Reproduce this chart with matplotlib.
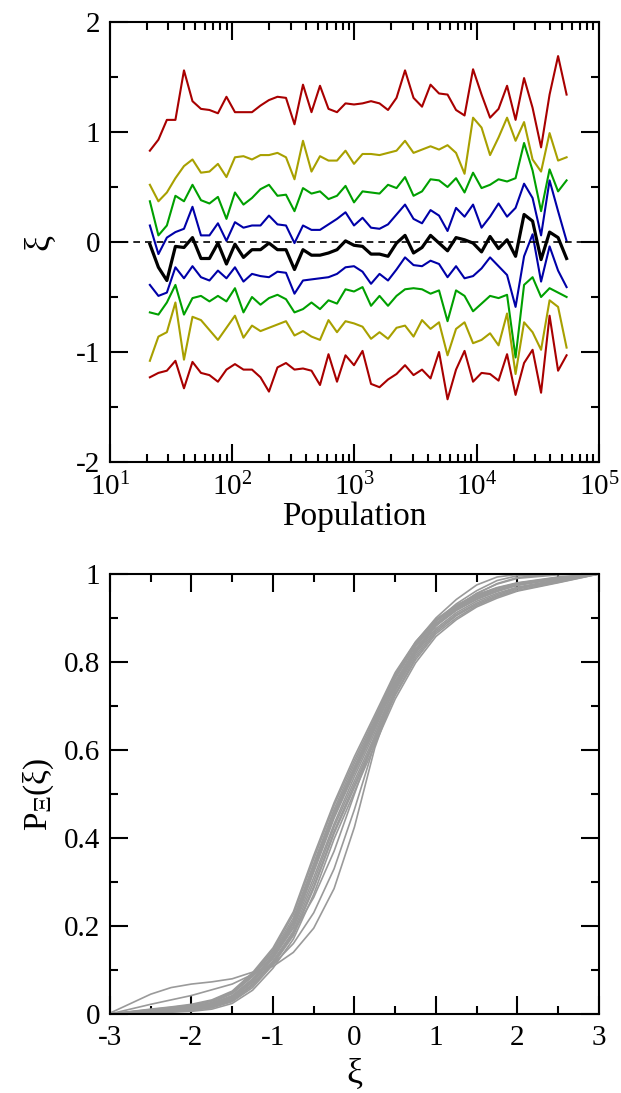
import matplotlib
matplotlib.use("Agg")
import matplotlib.pyplot as plt
from matplotlib.ticker import MultipleLocator, LogLocator, NullFormatter, FormatStrFormatter

plt.rcParams.update({
    "font.family": ["Liberation Serif", "DejaVu Serif"],
    "mathtext.fontset": "stix",
    "axes.unicode_minus": False,
    "axes.linewidth": 1.5,
    "xtick.direction": "in", "ytick.direction": "in",
    "xtick.top": True, "ytick.right": True,
    "xtick.major.size": 13, "ytick.major.size": 13,
    "xtick.minor.size": 6, "ytick.minor.size": 6,
    "xtick.major.width": 1.5, "ytick.major.width": 1.5,
    "xtick.minor.width": 1.5, "ytick.minor.width": 1.5,
    "xtick.labelsize": 21, "ytick.labelsize": 21,
})

# population bin centres (log-spaced)
population = [21.2, 24.9, 29.2, 34.3, 40.3, 47.3, 55.5, 65.1, 76.4, 89.7,
              105.3, 123.6, 145.1, 170.3, 199.8, 234.5, 275.3, 323.1, 379.2, 445.1,
              522.4, 613.2, 719.7, 844.7, 991.4, 1164, 1366, 1603, 1881, 2208,
              2592, 3042, 3570, 4190, 4918, 5773, 6775, 7952, 9334, 10955,
              12858, 15091, 17713, 20790, 24401, 28640, 33615, 39454, 46307, 54351]

red_hi = [0.83, 0.93, 1.11, 1.11, 1.56, 1.28, 1.21, 1.20, 1.17, 1.32, 1.18, 1.18, 1.18, 1.24, 1.29, 1.32, 1.31,
          1.07, 1.43, 1.18, 1.42, 1.21, 1.18, 1.26, 1.25, 1.26, 1.28, 1.26, 1.20, 1.31, 1.56, 1.31, 1.23, 1.43,
          1.35, 1.34, 1.20, 1.15, 1.57, 1.34, 1.13, 1.21, 1.42, 1.11, 1.49, 1.22, 0.86, 1.34, 1.69, 1.34]
olive_hi = [0.52, 0.37, 0.45, 0.58, 0.69, 0.75, 0.63, 0.64, 0.71, 0.59, 0.77, 0.78, 0.75, 0.79, 0.79, 0.81, 0.77,
            0.57, 0.92, 0.64, 0.78, 0.74, 0.74, 0.83, 0.71, 0.80, 0.80, 0.79, 0.81, 0.83, 0.92, 0.81, 0.84, 0.87,
            0.84, 0.88, 0.81, 0.62, 1.13, 1.04, 0.79, 0.95, 1.13, 0.92, 1.09, 0.75, 0.64, 0.99, 0.74, 0.77]
green_hi = [0.37, 0.06, 0.15, 0.42, 0.37, 0.52, 0.38, 0.35, 0.41, 0.21, 0.45, 0.34, 0.40, 0.48, 0.52, 0.42, 0.43,
            0.28, 0.49, 0.44, 0.46, 0.39, 0.42, 0.51, 0.36, 0.46, 0.45, 0.44, 0.52, 0.49, 0.59, 0.42, 0.46, 0.57,
            0.56, 0.50, 0.58, 0.45, 0.63, 0.49, 0.52, 0.57, 0.55, 0.58, 0.90, 0.65, 0.28, 0.66, 0.46, 0.56]
blue_hi = [0.15, -0.11, 0.04, 0.09, 0.12, 0.32, 0.06, 0.06, 0.17, 0.01, 0.18, 0.13, 0.15, 0.15, 0.24, 0.16, 0.15,
           -0.01, 0.15, 0.11, 0.11, 0.16, 0.21, 0.27, 0.15, 0.22, 0.13, 0.12, 0.16, 0.25, 0.34, 0.21, 0.17, 0.29,
           0.24, 0.10, 0.31, 0.23, 0.34, 0.13, 0.23, 0.35, 0.23, 0.31, 0.53, 0.40, 0.06, 0.56, 0.28, 0.01]
median = [-0.02, -0.23, -0.35, -0.04, -0.05, 0.04, -0.15, -0.15, -0.01, -0.20, -0.02, -0.14, -0.07, -0.07, -0.01, -0.07, -0.07,
          -0.25, -0.07, -0.12, -0.12, -0.10, -0.07, 0.01, -0.03, -0.04, -0.11, -0.11, -0.13, -0.01, 0.06, -0.10, -0.05, 0.06,
          -0.01, -0.08, 0.04, 0.02, -0.01, -0.09, 0.05, -0.06, 0.02, -0.13, 0.25, 0.19, -0.16, 0.09, 0.04, -0.15]
blue_lo = [-0.39, -0.49, -0.46, -0.23, -0.33, -0.22, -0.32, -0.35, -0.26, -0.33, -0.23, -0.36, -0.29, -0.31, -0.32, -0.27, -0.28,
           -0.47, -0.35, -0.34, -0.33, -0.32, -0.29, -0.23, -0.22, -0.27, -0.38, -0.29, -0.35, -0.25, -0.14, -0.21, -0.22, -0.17,
           -0.20, -0.32, -0.22, -0.33, -0.31, -0.24, -0.14, -0.22, -0.30, -0.59, -0.13, 0.07, -0.36, -0.04, -0.26, -0.41]
green_lo = [-0.64, -0.66, -0.55, -0.39, -0.66, -0.51, -0.49, -0.54, -0.49, -0.54, -0.42, -0.64, -0.50, -0.57, -0.51, -0.48, -0.52,
            -0.64, -0.61, -0.55, -0.61, -0.53, -0.56, -0.43, -0.45, -0.41, -0.58, -0.49, -0.58, -0.49, -0.43, -0.42, -0.43, -0.47,
            -0.44, -0.72, -0.44, -0.49, -0.63, -0.56, -0.49, -0.51, -0.48, -1.05, -0.39, -0.32, -0.50, -0.42, -0.46, -0.50]
olive_lo = [-1.08, -0.86, -0.82, -0.55, -1.07, -0.68, -0.71, -0.80, -0.89, -0.78, -0.67, -0.87, -0.76, -0.81, -0.78, -0.75, -0.72,
            -0.85, -0.81, -0.86, -0.89, -0.71, -0.82, -0.72, -0.74, -0.77, -0.88, -0.82, -0.88, -0.78, -0.76, -0.86, -0.71, -0.79,
            -0.73, -1.03, -0.79, -0.73, -0.92, -0.89, -0.83, -0.94, -0.65, -1.20, -0.73, -0.82, -0.98, -0.53, -0.59, -0.96]
red_lo = [-1.23, -1.19, -1.17, -1.08, -1.33, -1.09, -1.19, -1.21, -1.27, -1.16, -1.11, -1.16, -1.16, -1.23, -1.36, -1.14, -1.10,
          -1.16, -1.15, -1.17, -1.30, -1.02, -1.27, -1.03, -1.12, -0.99, -1.29, -1.32, -1.25, -1.20, -1.12, -1.21, -1.16, -1.24,
          -1.00, -1.43, -1.16, -0.99, -1.27, -1.19, -1.20, -1.26, -1.02, -1.39, -1.10, -0.98, -1.37, -0.67, -1.17, -1.03]

RED, OLIVE, GREEN, BLUE = "#a80000", "#a8a000", "#00a000", "#0000a8"

# cumulative distributions of xi, one per sample
xi_grid = [-3, -2.5, -2.25, -2, -1.75, -1.5, -1.25, -1, -0.75, -0.5, -0.25,
           0, 0.25, 0.5, 0.75, 1, 1.25, 1.5, 1.75, 2, 2.5, 3]
cdf_curves = [
    [0, .004, .007, .010, .017, .033, .068, .120, .188, .300, .425, .530, .632, .735, .815, .872, .908, .934, .953, .968, .985, 1],
    [0, .008, .012, .017, .026, .046, .085, .138, .212, .335, .458, .562, .660, .762, .835, .888, .921, .946, .963, .976, .990, 1],
    [0, .005, .008, .012, .020, .036, .072, .126, .195, .310, .432, .540, .640, .745, .820, .876, .912, .938, .956, .970, .987, 1],
    [0, .007, .011, .015, .024, .042, .080, .134, .206, .326, .450, .553, .652, .756, .830, .884, .918, .943, .961, .974, .989, 1],
    [0, .003, .006, .009, .015, .030, .064, .116, .182, .290, .415, .522, .625, .728, .810, .868, .905, .931, .950, .966, .983, 1],
    [0, .009, .014, .019, .029, .048, .088, .142, .218, .342, .465, .570, .668, .768, .840, .892, .925, .950, .967, .979, .992, 1],
    [0, .006, .009, .013, .021, .038, .076, .129, .199, .322, .445, .548, .647, .752, .826, .882, .917, .942, .960, .975, .990, 1],
    [0, .002, .005, .008, .014, .028, .060, .112, .178, .285, .410, .515, .620, .724, .805, .864, .900, .928, .948, .963, .981, 1],
    [0, .011, .016, .022, .032, .052, .094, .150, .232, .360, .480, .585, .680, .776, .846, .897, .929, .953, .969, .980, .993, 1],
    [0, .002, .004, .006, .011, .024, .054, .104, .170, .272, .398, .505, .612, .716, .798, .858, .896, .925, .945, .961, .980, 1],
    [0, .010, .015, .020, .030, .050, .091, .146, .226, .352, .474, .577, .674, .772, .843, .894, .927, .951, .968, .978, .991, 1],
    [0, .005, .008, .012, .019, .036, .074, .128, .205, .330, .455, .560, .665, .772, .845, .900, .942, .975, .993, .999, 1, 1],
    [0, .006, .010, .014, .022, .040, .078, .131, .208, .333, .455, .557, .657, .765, .838, .893, .932, .962, .985, .996, 1, 1],
    [.002, .045, .060, .068, .073, .080, .095, .108, .140, .195, .285, .425, .605, .735, .822, .882, .925, .955, .978, .992, 1, 1],
    [0, .022, .032, .042, .055, .068, .090, .112, .160, .230, .330, .465, .615, .740, .826, .885, .926, .956, .977, .990, .998, 1],
    [0, .004, .007, .010, .017, .032, .066, .120, .185, .265, .370, .500, .630, .748, .828, .885, .922, .948, .966, .978, .991, 1],
]

fig = plt.figure(figsize=(6.21, 10.93), dpi=100)

# ---- top: xi versus population ----
ax1 = fig.add_axes([0.1771, 0.5773, 0.7874, 0.4026])
for series, color in [(red_hi, RED), (olive_hi, OLIVE), (green_hi, GREEN), (blue_hi, BLUE),
                      (blue_lo, BLUE), (green_lo, GREEN), (olive_lo, OLIVE), (red_lo, RED)]:
    ax1.plot(population, series, color=color, linewidth=1.5)
ax1.axhline(0, color="black", linewidth=1.2, linestyle=(0, (4, 3)))
ax1.plot(population, median, color="black", linewidth=2.3)
ax1.set_xscale("log")
ax1.set_xlim(10, 1e5)
ax1.set_ylim(-2, 2)
ax1.xaxis.set_major_locator(LogLocator(base=10, numticks=10))
ax1.xaxis.set_minor_locator(LogLocator(base=10, subs=range(2, 10), numticks=20))
ax1.xaxis.set_minor_formatter(NullFormatter())
ax1.yaxis.set_major_locator(MultipleLocator(1))
ax1.yaxis.set_minor_locator(MultipleLocator(0.5))
ax1.yaxis.set_major_formatter(FormatStrFormatter("%g"))
ax1.tick_params(axis="x", which="major", pad=8)
ax1.tick_params(axis="y", which="major", pad=7)
ax1.set_xlabel("Population", fontsize=24, labelpad=0)
ax1.set_ylabel("ξ", fontsize=26, labelpad=14)

# ---- bottom: cumulative distributions ----
ax2 = fig.add_axes([0.1771, 0.0723, 0.7874, 0.4026])
for cdf in cdf_curves:
    ax2.plot(xi_grid, cdf, color="#9a9a9a", linewidth=1.2)
ax2.set_xlim(-3, 3)
ax2.set_ylim(0, 1)
ax2.xaxis.set_major_locator(MultipleLocator(1))
ax2.xaxis.set_minor_locator(MultipleLocator(0.5))
ax2.yaxis.set_major_locator(MultipleLocator(0.2))
ax2.yaxis.set_minor_locator(MultipleLocator(0.1))
ax2.xaxis.set_major_formatter(FormatStrFormatter("%g"))
ax2.yaxis.set_major_formatter(FormatStrFormatter("%g"))
ax2.tick_params(axis="x", which="major", pad=8)
ax2.tick_params(axis="y", which="major", pad=7)
ax2.set_xlabel("ξ", fontsize=26, labelpad=5)
ax2.set_ylabel("P$_{\\Xi}$(ξ)", fontsize=24, labelpad=6)

fig.savefig("out.png", dpi=100, facecolor="white")
